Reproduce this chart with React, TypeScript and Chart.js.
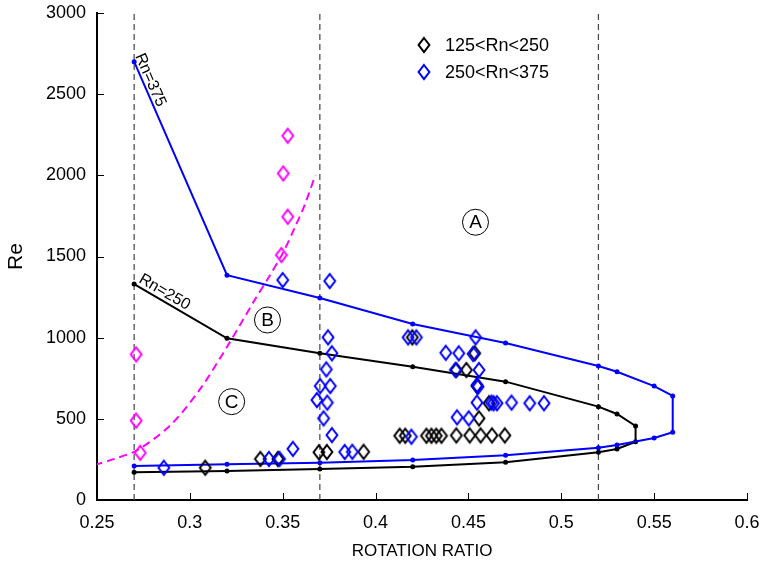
import React, { useEffect, useRef } from 'react';
import { Chart, registerables } from 'chart.js';

Chart.register(...registerables);

const FONT = '"Liberation Sans", Arial, Helvetica, sans-serif';

// ---- tick labels & titles ----
const xTickValues = [0.25, 0.3, 0.35, 0.4, 0.45, 0.5, 0.55, 0.6];
const xTickLabels = ['0.25', '0.3', '0.35', '0.4', '0.45', '0.5', '0.55', '0.6'];
const yTickValues = [0, 500, 1000, 1500, 2000, 2500, 3000];
const yTickLabels = ['0', '500', '1000', '1500', '2000', '2500', '3000'];
const xTitle = 'ROTATION RATIO';
const yTitle = 'Re';
const legendLabels = ['125<Rn<250', '250<Rn<375'];
const lineLabels = ['Rn=375', 'Rn=250'];

// ---- vertical dashed dividers ----
const dividerX = [0.27, 0.37, 0.52];

// ---- Rn=375 boundary (blue) ----
const rn375X = [0.27, 0.32, 0.37, 0.42, 0.47, 0.52, 0.53, 0.55, 0.56, 0.56, 0.55, 0.53, 0.52, 0.47, 0.42, 0.37, 0.32, 0.27];
const rn375Re = [2700, 1385, 1244, 1084, 967, 825, 790, 702, 641, 417, 382, 339, 322, 276, 246, 230, 220, 209];

// ---- Rn=250 boundary (black) ----
const rn250X = [0.27, 0.32, 0.37, 0.42, 0.47, 0.52, 0.53, 0.54, 0.54, 0.53, 0.52, 0.47, 0.42, 0.37, 0.32, 0.27];
const rn250Re = [1330, 996, 904, 821, 729, 575, 530, 456, 359, 314, 294, 232, 205, 191, 179, 171];

// ---- magenta dashed boundary B/C ----
const boundaryX = [0.2487, 0.2594, 0.2718, 0.2891, 0.3052, 0.3203, 0.3349, 0.3429, 0.3501, 0.3564, 0.3618, 0.3676];
const boundaryRe = [216, 253, 308, 456, 678, 949, 1232, 1380, 1522, 1676, 1817, 2002];

// ---- magenta diamonds ----
const magentaX = [0.2711, 0.2711, 0.2733, 0.3493, 0.3527, 0.3503, 0.3527];
const magentaRe = [897, 489, 291, 1509, 1745, 2012, 2244];

// ---- 125<Rn<250 (black diamonds) ----
const lowX = [0.3083, 0.338, 0.3474, 0.3695, 0.3738, 0.3936, 0.413, 0.416, 0.4274, 0.4301, 0.4327, 0.4355, 0.4435, 0.4507, 0.4566, 0.4627, 0.4696, 0.4198, 0.4534, 0.4435, 0.4489, 0.4546, 0.4611, 0.4557];
const lowRe = [199, 253, 253, 294, 296, 297, 396, 396, 396, 396, 396, 396, 398, 398, 398, 398, 398, 1002, 904, 801, 801, 702, 596, 503];

// ---- 250<Rn<375 (blue diamonds) ----
const highX = [0.286, 0.3426, 0.3483, 0.3555, 0.3834, 0.3875, 0.3744, 0.3765, 0.3735, 0.3702, 0.3756, 0.3684, 0.374, 0.372, 0.3765, 0.35, 0.3753, 0.4193, 0.4175, 0.422, 0.4539, 0.4378, 0.4448, 0.4525, 0.443, 0.4557, 0.4546, 0.4552, 0.4546, 0.4624, 0.4636, 0.4654, 0.4732, 0.483, 0.4907, 0.4439, 0.4502];
const highRe = [199, 253, 253, 315, 296, 297, 1002, 904, 805, 702, 702, 616, 600, 503, 400, 1355, 1349, 390, 1002, 1002, 1002, 907, 904, 900, 801, 801, 708, 698, 600, 600, 596, 596, 600, 596, 596, 509, 503];

// ---- circled region labels ----
const regionNames = ['A', 'B', 'C'];
const regionX = [0.4538, 0.3418, 0.3225];
const regionRe = [1711, 1109, 606];

const pts = (xs: number[], ys: number[]) => xs.map((x, i) => ({ x, y: ys[i] }));

function makeDiamond(color: string): HTMLCanvasElement {
  const c = document.createElement('canvas');
  c.width = 16;
  c.height = 20;
  const g = c.getContext('2d')!;
  g.strokeStyle = color;
  g.lineWidth = 2;
  g.beginPath();
  g.moveTo(8, 3);
  g.lineTo(13.4, 10);
  g.lineTo(8, 17);
  g.lineTo(2.6, 10);
  g.closePath();
  g.stroke();
  return c;
}

export default function App() {
  const ref = useRef<HTMLCanvasElement | null>(null);

  useEffect(() => {
    const canvas = ref.current;
    if (!canvas) return;
    const blackD = makeDiamond('#000000');
    const blueD = makeDiamond('#0000ff');
    const magD = makeDiamond('#ff00ff');

    const overlay = {
      id: 'overlay',
      afterDraw(chart: any) {
        const { ctx, chartArea: a } = chart;
        const x = chart.scales.x;
        const y = chart.scales.y;
        ctx.save();
        // inward ticks
        ctx.strokeStyle = '#000';
        ctx.lineWidth = 1;
        xTickValues.forEach((v) => {
          const px = Math.round(x.getPixelForValue(v)) + 0.5;
          ctx.beginPath();
          ctx.moveTo(px, a.bottom);
          ctx.lineTo(px, a.bottom - 7);
          ctx.stroke();
        });
        yTickValues.forEach((v) => {
          const py = Math.round(y.getPixelForValue(v)) + 0.5;
          ctx.beginPath();
          ctx.moveTo(a.left, py);
          ctx.lineTo(a.left + 7, py);
          ctx.stroke();
        });

        // Rn labels along lines
        const drawAlong = (text: string, x0: number, y0: number, x1: number, y1: number, along: number, up: number) => {
          const p0x = x.getPixelForValue(x0);
          const p0y = y.getPixelForValue(y0);
          const p1x = x.getPixelForValue(x1);
          const p1y = y.getPixelForValue(y1);
          const ang = Math.atan2(p1y - p0y, p1x - p0x);
          ctx.save();
          ctx.translate(p0x, p0y);
          ctx.rotate(ang);
          ctx.font = `16px ${FONT}`;
          ctx.fillStyle = '#000';
          ctx.textAlign = 'left';
          ctx.textBaseline = 'alphabetic';
          ctx.fillText(text, along, -up);
          ctx.restore();
        };
        drawAlong(lineLabels[0], rn375X[0], rn375Re[0], rn375X[1], rn375Re[1], -5, 3);
        drawAlong(lineLabels[1], rn250X[0], rn250Re[0], rn250X[1], rn250Re[1], 2, 4);

        // circled region letters
        regionNames.forEach((n, i) => {
          const cx = x.getPixelForValue(regionX[i]);
          const cy = y.getPixelForValue(regionRe[i]);
          ctx.beginPath();
          ctx.arc(cx, cy, 13, 0, Math.PI * 2);
          ctx.lineWidth = 1;
          ctx.strokeStyle = '#000';
          ctx.stroke();
          ctx.font = `19px ${FONT}`;
          ctx.fillStyle = '#000';
          ctx.textAlign = 'center';
          ctx.textBaseline = 'middle';
          ctx.fillText(n, cx, cy + 1);
        });

        // legend
        const lx = 424;
        const ly = [45, 72];
        [blackD, blueD].forEach((img, i) => {
          ctx.drawImage(img, lx - img.width / 2, ly[i] - img.height / 2);
          ctx.font = `18px ${FONT}`;
          ctx.fillStyle = '#000';
          ctx.textAlign = 'left';
          ctx.textBaseline = 'middle';
          ctx.fillText(legendLabels[i], 445, ly[i] + 1);
        });

        // axis titles
        ctx.font = `17px ${FONT}`;
        ctx.textAlign = 'center';
        ctx.textBaseline = 'middle';
        ctx.fillText(xTitle, (a.left + a.right) / 2, 551);
        ctx.save();
        ctx.translate(16, (a.top + a.bottom) / 2);
        ctx.rotate(-Math.PI / 2);
        ctx.font = `21px ${FONT}`;
        ctx.fillText(yTitle, 0, 0);
        ctx.restore();

        ctx.restore();
      },
    };

    const lineStyle = (color: string) => ({
      showLine: true,
      borderColor: color,
      backgroundColor: color,
      borderWidth: 2,
      pointRadius: 2.5,
      pointBorderWidth: 0,
      pointBackgroundColor: color,
      tension: 0,
      order: 5,
    });

    const datasets: any[] = [
      ...dividerX.map((dx) => ({
        data: [{ x: dx, y: yTickValues[0] }, { x: dx, y: yTickValues[yTickValues.length - 1] }],
        showLine: true,
        borderColor: '#444',
        borderWidth: 1.2,
        borderDash: [6, 4],
        pointRadius: 0,
        order: 10,
      })),
      { data: pts(rn375X, rn375Re), ...lineStyle('#0000ff') },
      { data: pts(rn250X, rn250Re), ...lineStyle('#000000') },
      {
        data: pts(boundaryX, boundaryRe),
        showLine: true,
        borderColor: '#ff00ff',
        borderWidth: 2,
        borderDash: [8, 5],
        pointRadius: 0,
        tension: 0.3,
        order: 6,
      },
      { data: pts(magentaX, magentaRe), pointStyle: magD, pointRadius: 8, order: 1 },
      { data: pts(lowX, lowRe), pointStyle: blackD, pointRadius: 8, order: 2 },
      { data: pts(highX, highRe), pointStyle: blueD, pointRadius: 8, order: 1 },
    ];

    const chart = new Chart(canvas, {
      type: 'scatter',
      data: { datasets },
      options: {
        animation: false,
        responsive: false,
        maintainAspectRatio: false,
        events: [],
        layout: { padding: { top: 13, right: 18, left: 0, bottom: 0 } },
        plugins: { legend: { display: false }, tooltip: { enabled: false } },
        scales: {
          x: {
            type: 'linear',
            min: xTickValues[0],
            max: xTickValues[xTickValues.length - 1],
            afterBuildTicks: (s: any) => {
              s.ticks = xTickValues.map((v) => ({ value: v }));
            },
            afterFit: (s: any) => {
              s.height = 67;
              s.paddingLeft = 0;
              s.paddingRight = 0;
            },
            ticks: {
              autoSkip: false,
              maxRotation: 0,
              padding: 12,
              color: '#000',
              font: { family: FONT, size: 18 },
              callback: (_v: any, i: number) => xTickLabels[i],
            },
            grid: { drawOnChartArea: false, drawTicks: false },
            border: { color: '#000', width: 2 },
          },
          y: {
            type: 'linear',
            min: yTickValues[0],
            max: yTickValues[yTickValues.length - 1],
            afterBuildTicks: (s: any) => {
              s.ticks = yTickValues.map((v) => ({ value: v }));
            },
            afterFit: (s: any) => {
              s.width = 97;
              s.paddingTop = 0;
              s.paddingBottom = 0;
            },
            ticks: {
              autoSkip: false,
              padding: 11,
              color: '#000',
              font: { family: FONT, size: 18 },
              callback: (_v: any, i: number) => yTickLabels[i],
            },
            grid: { drawOnChartArea: false, drawTicks: false },
            border: { color: '#000', width: 2 },
          },
        },
      },
      plugins: [overlay],
    });
    return () => chart.destroy();
  }, []);

  return (
    <div style={{ position: 'absolute', left: 0, top: 0, width: 765, height: 567, background: '#fff' }}>
      <canvas ref={ref} width={765} height={567} style={{ display: 'block', width: 765, height: 567 }} />
    </div>
  );
}
